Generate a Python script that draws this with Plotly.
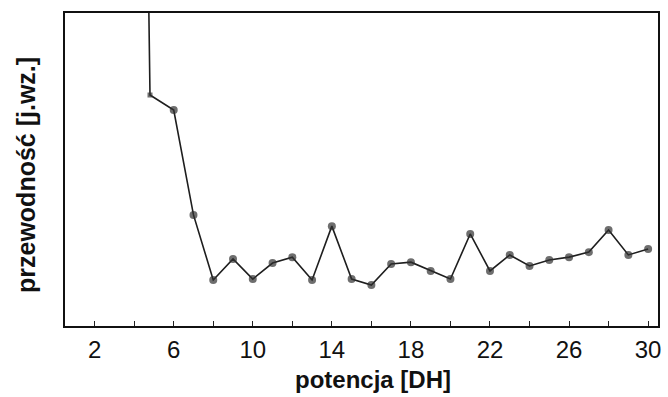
import plotly.graph_objects as go

# potencja (DH) and relative conductivity values
potencja = [4.7, 4.8, 6, 7, 8, 9, 10, 11, 12, 13, 14, 15, 16, 17, 18, 19, 20,
            21, 22, 23, 24, 25, 26, 27, 28, 29, 30]
przewodnosc = [12.0, 7.38, 6.90, 3.55, 1.47, 2.14, 1.50, 2.01, 2.20, 1.47, 3.19,
               1.50, 1.31, 1.98, 2.04, 1.76, 1.50, 2.94, 1.76, 2.27, 1.92, 2.11,
               2.20, 2.36, 3.07, 2.27, 2.46]

x_tick_vals = [2, 6, 10, 14, 18, 22, 26, 30]
x_tick_text = ["2", "6", "10", "14", "18", "22", "26", "30"]

marker_symbols = ["circle", "square"] + ["circle"] * (len(potencja) - 2)
marker_sizes = [0, 5] + [8] * (len(potencja) - 2)

FONT = "Liberation Sans, Arial, sans-serif"

fig = go.Figure()
fig.add_trace(go.Scatter(
    x=potencja, y=przewodnosc, mode="lines+markers",
    line=dict(color="#1e1e1e", width=1.6),
    marker=dict(color="#303030", size=marker_sizes, symbol=marker_symbols,
                line=dict(width=0)),
    cliponaxis=True, showlegend=False,
))

fig.update_layout(
    width=668, height=397,
    margin=dict(l=65, r=7, t=13, b=71),
    paper_bgcolor="white", plot_bgcolor="white",
    font=dict(family=FONT, color="#111"),
    xaxis=dict(
        range=[0.5, 30.5], tickvals=x_tick_vals, ticktext=x_tick_text,
        ticks="inside", ticklen=5, tickcolor="#222", tickwidth=1,
        minor=dict(dtick=2, tick0=0, ticks="inside", ticklen=5, tickcolor="#222"),
        showgrid=False, zeroline=False,
        showline=True, linecolor="#111", linewidth=1.5, mirror=True,
        tickfont=dict(family=FONT, size=24, color="#111"),
        ticklabelstandoff=1,
    ),
    yaxis=dict(
        range=[0, 10], showticklabels=False, ticks="",
        showgrid=False, zeroline=False,
        showline=True, linecolor="#111", linewidth=1.5, mirror=True,
    ),
    annotations=[
        dict(text="<b>potencja [DH]</b>", xref="paper", yref="paper",
             x=0.52, y=-0.172, xanchor="center", yanchor="middle",
             showarrow=False, font=dict(family=FONT, size=24, color="#111")),
        dict(text="<b>przewodność [j.wz.]</b>", xref="paper", yref="paper",
             x=-0.066, y=0.482, xanchor="center", yanchor="middle",
             textangle=-90, showarrow=False,
             font=dict(family=FONT, size=25, color="#111")),
    ],
)

fig.write_html("out.html")
